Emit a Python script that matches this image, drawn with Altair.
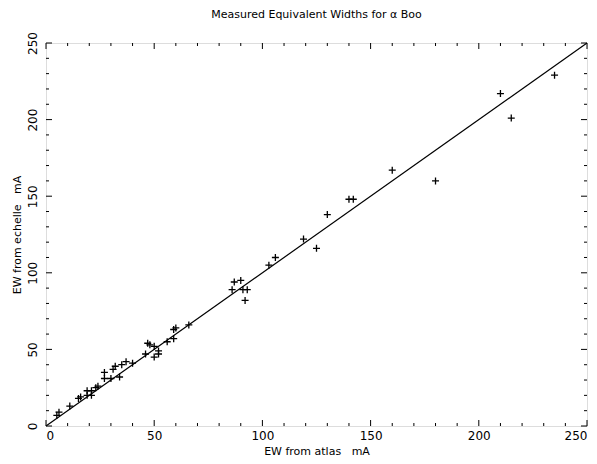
import altair as alt
import pandas as pd

# Data
atlas = [5, 6, 11, 15, 16, 19, 21, 19, 21, 23, 24, 27, 27, 30, 31, 32, 34, 35, 37, 40,
         46, 47, 48, 50, 50, 52, 52, 56, 59, 59, 60, 66,
         86, 87, 90, 91, 93, 92, 103, 106, 119, 125, 130, 140, 142, 160, 180, 210, 215, 235]
echelle = [7, 9, 13, 18, 19, 23, 23, 20, 20, 25, 26, 35, 31, 31, 37, 39, 32, 40, 42, 41,
           47, 54, 53, 52, 45, 47, 49, 55, 57, 63, 64, 66,
           89, 94, 95, 89, 89, 82, 105, 110, 122, 116, 138, 148, 148, 167, 160, 217, 201, 229]
line_x = [0, 250]
line_y = [0, 250]
major_ticks = [0, 50, 100, 150, 200, 250]
minor_ticks = [v for v in range(10, 250, 10) if v % 50 != 0]

W, H = 541, 383
MAJ, MIN = 6, 3

pts = pd.DataFrame({"atlas": atlas, "echelle": echelle})
ln = pd.DataFrame({"atlas": line_x, "echelle": line_y})
maj = pd.DataFrame({"v": major_ticks})
mnr = pd.DataFrame({"v": minor_ticks})

xs = alt.Scale(domain=[0, 250], nice=False, zero=False)
ys = alt.Scale(domain=[0, 250], nice=False, zero=False)

font = "DejaVu Sans"

xaxis = alt.Axis(values=major_ticks, ticks=False, tickSize=0, domain=False, grid=False,
                 labelPadding=4, labelFontSize=12, labelFont=font, labelColor="black",
                 title="EW from atlas\u00a0\u00a0 mA", titleFont=font, titleFontSize=11,
                 titleFontWeight="normal", titleColor="black", titlePadding=4)
yaxis = alt.Axis(values=major_ticks, ticks=False, tickSize=0, domain=False, grid=False,
                 labelAngle=270, labelAlign="center", labelBaseline="bottom",
                 labelPadding=7, labelFontSize=12, labelFont=font, labelColor="black",
                 title="EW from echelle\u00a0\u00a0 mA", titleFont=font, titleFontSize=11,
                 titleFontWeight="normal", titleColor="black", titlePadding=4)

points = alt.Chart(pts).mark_point(
    shape="M-1,0H1M0,-1V1", size=49, filled=False, color="black", strokeWidth=1.3, opacity=1
).encode(
    x=alt.X("atlas:Q", scale=xs, axis=xaxis),
    y=alt.Y("echelle:Q", scale=ys, axis=yaxis),
)

diag = alt.Chart(ln).mark_line(color="black", strokeWidth=1.2).encode(
    x=alt.X("atlas:Q", scale=xs),
    y=alt.Y("echelle:Q", scale=ys),
)

def tick_layers(df, L):
    base = alt.Chart(df).mark_rule(color="black", strokeWidth=1)
    return [
        base.encode(x=alt.X("v:Q", scale=xs), y=alt.value(H), y2=alt.value(H - L)),
        base.encode(x=alt.X("v:Q", scale=xs), y=alt.value(0), y2=alt.value(L)),
        base.encode(y=alt.Y("v:Q", scale=ys), x=alt.value(0), x2=alt.value(L)),
        base.encode(y=alt.Y("v:Q", scale=ys), x=alt.value(W), x2=alt.value(W - L)),
    ]

layers = [diag, points] + tick_layers(maj, MAJ) + tick_layers(mnr, MIN)

chart = alt.layer(*layers).properties(
    width=W, height=H,
    title=alt.TitleParams("Measured Equivalent Widths for α Boo", font=font, fontSize=11,
                          fontWeight="normal", color="black", anchor="middle", offset=12),
    autosize=alt.AutoSizeParams(type="none"),
    padding={"left": 38, "top": 35, "right": 2, "bottom": 38},
).configure_view(stroke="black", strokeWidth=1.2).configure(background="white")

chart.save("out.html", embed_options={"renderer": "svg", "actions": False})
